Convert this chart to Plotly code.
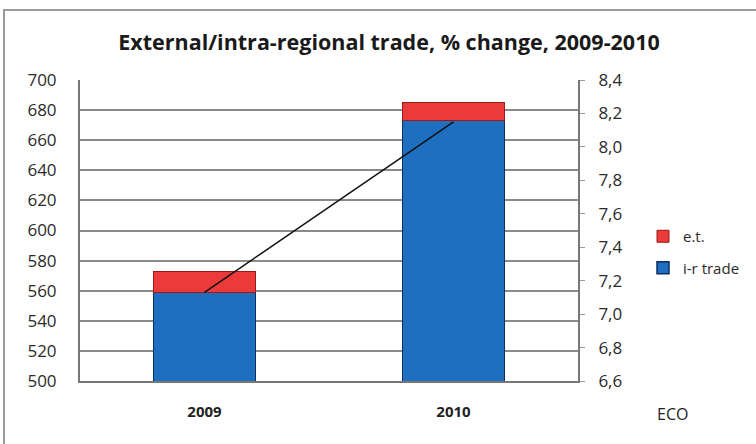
import plotly.graph_objects as go

# Trade volumes by year (left axis) and the % change line (right axis)
years = ["2009", "2010"]
intra_regional = [559, 673]
external = [14, 12]
pct_change = [7.13, 8.15]

left_ticks = list(range(500, 701, 20))
right_ticks = [6.6, 6.8, 7.0, 7.2, 7.4, 7.6, 7.8, 8.0, 8.2, 8.4]
right_tick_text = [f"{v:.1f}".replace(".", ",") for v in right_ticks]

FONT = "Open Sans"
TXT = "#2a2a2a"

fig = go.Figure()
fig.add_trace(go.Bar(
    x=years, y=intra_regional, name="i-r trade", legendgroup="ir", legendrank=2,
    marker=dict(color="#1f6fc1", line=dict(color="#0b2f66", width=1.5)),
))
fig.add_trace(go.Bar(
    x=years, y=external, name="e.t.", legendgroup="et", legendrank=1,
    marker=dict(color="#ec3a3a", line=dict(color="#9a1a1a", width=1)),
))
fig.add_trace(go.Scatter(
    x=years, y=pct_change, yaxis="y2", mode="lines",
    line=dict(color="#111111", width=1.5), showlegend=False,
))

fig.update_layout(
    width=756, height=444,
    margin=dict(l=80, r=178, t=80, b=63, autoexpand=False),
    paper_bgcolor="white", plot_bgcolor="white",
    barmode="stack", bargap=0.59,
    title=dict(
        text="External/intra-regional trade, % change, 2009-2010",
        x=389 / 756, xanchor="center", y=1 - 42 / 444, yanchor="middle",
        font=dict(family=FONT, size=21.5, color="#1a1a1a", weight="bold"),
    ),
    font=dict(family=FONT, size=15, color=TXT),
    xaxis=dict(
        showgrid=False, showline=True, linecolor="#777777", linewidth=2,
        ticks="", tickfont=dict(size=15, color="#222222", weight="bold"),
        ticklabelstandoff=16, automargin=False,
    ),
    yaxis=dict(
        range=[500, 700], tickvals=left_ticks,
        showgrid=True, gridcolor="#8a8a8a", gridwidth=1.5,
        showline=True, linecolor="#777777", linewidth=2,
        ticks="", ticklabelstandoff=18, zeroline=False, automargin=False,
        tickfont=dict(size=17, color=TXT),
    ),
    yaxis2=dict(
        overlaying="y", side="right", range=[6.6, 8.4],
        tickvals=right_ticks, ticktext=right_tick_text,
        showgrid=False, showline=True, linecolor="#777777", linewidth=2,
        ticks="outside", ticklen=5, tickcolor="#999999", zeroline=False,
        ticklabelstandoff=10, automargin=False,
        tickfont=dict(size=17, color=TXT),
    ),
    legend=dict(
        x=(643 - 80) / 498, y=1 - (220 - 80) / 301, xanchor="left", yanchor="top",
        traceorder="grouped", font=dict(size=15, color=TXT),
        itemwidth=30, tracegroupgap=9, bgcolor="rgba(0,0,0,0)",
    ),
    annotations=[dict(
        text="ECO", xref="paper", yref="paper",
        x=(672 - 80) / 498, y=(381 - 414) / 301, xanchor="center", yanchor="middle",
        showarrow=False, font=dict(family=FONT, size=16, color="#222222"),
    )],
    shapes=[dict(
        type="rect", xref="paper", yref="paper",
        x0=(4 - 80) / 498, x1=(770 - 80) / 498,
        y0=(381 - 460) / 301, y1=1 + (80 - 10) / 301,
        line=dict(color="#9a9a9a", width=2), fillcolor="rgba(0,0,0,0)", layer="below",
    )],
)

fig.write_html("out.html")
